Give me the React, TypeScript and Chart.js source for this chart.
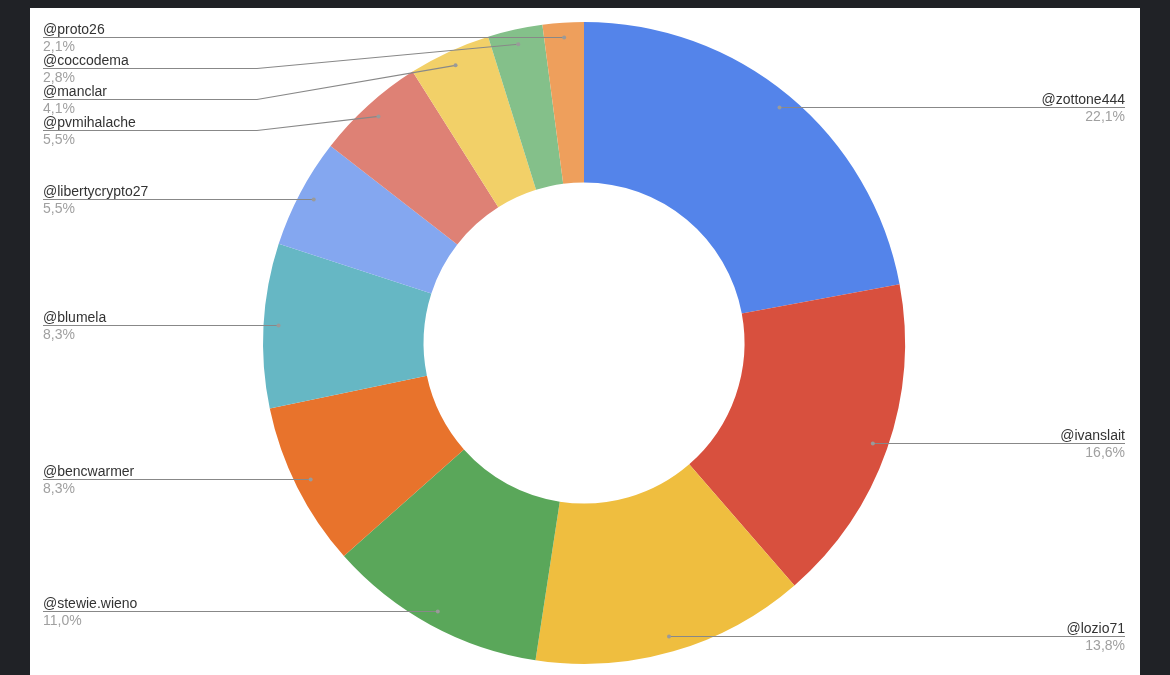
import React, { useEffect, useRef } from "react";
import { Chart, registerables } from "chart.js";

Chart.register(...registerables);

const categories = [
  "@zottone444",
  "@ivanslait",
  "@lozio71",
  "@stewie.wieno",
  "@bencwarmer",
  "@blumela",
  "@libertycrypto27",
  "@pvmihalache",
  "@manclar",
  "@coccodema",
  "@proto26",
];

const values = [32, 24, 20, 16, 12, 12, 8, 8, 6, 4, 3];

const colors = [
  "#5484ea",
  "#d8503e",
  "#efbe3f",
  "#5aa75a",
  "#e8732c",
  "#66b7c4",
  "#84a7f0",
  "#de8175",
  "#f2d068",
  "#84c08a",
  "#ee9f5c",
];

const FONT = '14px "Liberation Sans", Arial, sans-serif';

const labelPlugin = {
  id: "sideLabels",
  afterDraw(chart: any) {
    const ctx = chart.ctx;
    const meta = chart.getDatasetMeta(0);
    const data: number[] = chart.data.datasets[0].data;
    const total = data.reduce((a, b) => a + b, 0);
    const W = chart.width;
    const items: any[] = [];
    meta.data.forEach((arc: any, i: number) => {
      const p = arc.getProps(["x", "y", "startAngle", "endAngle", "outerRadius"], true);
      const mid = (p.startAngle + p.endAngle) / 2;
      const r = p.outerRadius * 0.953;
      const dx = p.x + r * Math.cos(mid);
      const dy = p.y + r * Math.sin(mid);
      items.push({
        i,
        dx,
        dy,
        cx: p.x,
        R: p.outerRadius,
        left: dx < p.x,
        name: chart.data.labels[i],
        pct: ((data[i] / total) * 100).toFixed(1).replace(".", ",") + "%",
      });
    });
    const gap = 31;
    ["left", "right"].forEach((side) => {
      const list = items
        .filter((it) => (side === "left" ? it.left : !it.left))
        .sort((a, b) => a.dy - b.dy);
      let prev = -Infinity;
      list.forEach((it) => {
        it.ly = Math.max(it.dy - 1, prev + gap);
        prev = it.ly;
      });
    });
    ctx.save();
    ctx.font = FONT;
    items.forEach((it) => {
      const ly = Math.round(it.ly) + 0.5;
      const bent = Math.abs(it.ly - it.dy) > 2;
      ctx.strokeStyle = "#888888";
      ctx.lineWidth = 1.2;
      ctx.beginPath();
      const tx = it.left ? 13 : W - 15;
      ctx.moveTo(tx, ly);
      if (bent) {
        const ex = it.left ? it.cx - it.R - 6 : it.cx + it.R + 6;
        ctx.lineTo(ex, ly);
        ctx.lineTo(it.dx, it.dy);
      } else {
        ctx.lineTo(it.dx, ly);
      }
      ctx.stroke();
      ctx.textAlign = it.left ? "left" : "right";
      ctx.textBaseline = "alphabetic";
      ctx.fillStyle = "#333333";
      ctx.fillText(it.name, tx, ly - 4);
      ctx.fillStyle = "#a0a0a0";
      ctx.fillText(it.pct, tx, ly + 13);
      ctx.fillStyle = "#9a9a9a";
      ctx.beginPath();
      ctx.arc(it.dx, bent ? it.dy : ly, 2, 0, Math.PI * 2);
      ctx.fill();
    });
    ctx.restore();
  },
};

export default function App() {
  const ref = useRef<HTMLCanvasElement | null>(null);
  useEffect(() => {
    if (!ref.current) return;
    const chart = new Chart(ref.current, {
      type: "doughnut",
      data: {
        labels: categories,
        datasets: [
          {
            data: values,
            backgroundColor: colors,
            borderWidth: 0,
            hoverOffset: 0,
          },
        ],
      },
      options: {
        animation: false,
        responsive: false,
        maintainAspectRatio: false,
        cutout: "50%",
        layout: { padding: { top: 14, bottom: 11, left: 0, right: 2 } },
        plugins: {
          legend: { display: false },
          tooltip: { enabled: false },
        },
      },
      plugins: [labelPlugin],
    });
    return () => chart.destroy();
  }, []);
  return (
    <div
      style={{
        position: "fixed",
        left: 0,
        top: 0,
        width: 1170,
        height: 675,
        background: "#202226",
        overflow: "hidden",
      }}
    >
      <div
        style={{
          position: "absolute",
          left: 30,
          top: 8,
          width: 1110,
          height: 667,
          background: "#ffffff",
        }}
      >
        <canvas ref={ref} width={1110} height={667} style={{ display: "block", width: 1110, height: 667 }} />
      </div>
    </div>
  );
}
